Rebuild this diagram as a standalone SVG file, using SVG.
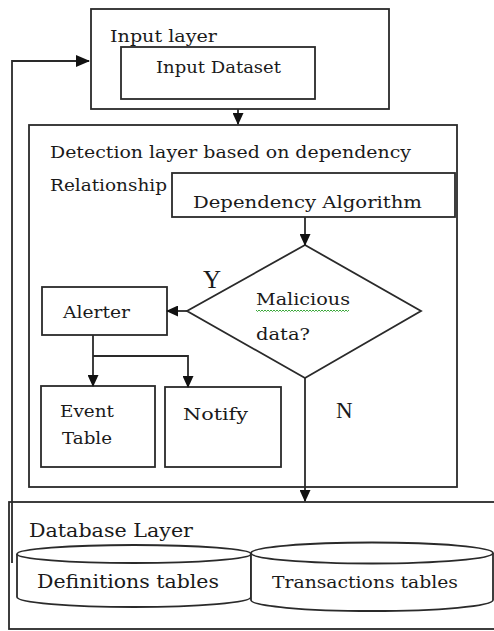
<svg xmlns="http://www.w3.org/2000/svg" width="494" height="631" viewBox="0 0 494 631">
<defs>
<style>
.box{fill:#fff;stroke:#2a2a2a;stroke-width:1.8}
.ln{fill:none;stroke:#2a2a2a;stroke-width:1.8}
.t{font-family:"DejaVu Serif","Liberation Serif",serif;font-size:17.5px;fill:#1a1a1a}
.big{font-family:"Liberation Serif","DejaVu Serif",serif;font-size:25px;fill:#1a1a1a}
</style>
<marker id="ah" markerUnits="userSpaceOnUse" markerWidth="14" markerHeight="12" refX="13" refY="6" orient="auto">
<path d="M0,0 L14,6 L0,12 z" fill="#111"/>
</marker>
<marker id="ahs" markerUnits="userSpaceOnUse" markerWidth="12" markerHeight="11" refX="11" refY="5.5" orient="auto">
<path d="M0,0 L12,5.5 L0,11 z" fill="#111"/>
</marker>
</defs>
<rect width="494" height="631" fill="#fff"/>

<g id="input-layer">
<rect class="box" x="91" y="9" width="298" height="100"/>
<text class="t" x="110" y="42" textLength="107" lengthAdjust="spacingAndGlyphs">Input layer</text>
</g>
<g id="input-dataset">
<rect class="box" x="121" y="47" width="194" height="52"/>
<text class="t" x="156" y="73" textLength="125" lengthAdjust="spacingAndGlyphs">Input Dataset</text>
</g>

<g id="detection-layer">
<rect class="box" x="29" y="125" width="428" height="362"/>
<text class="t" x="50" y="158" textLength="361" lengthAdjust="spacingAndGlyphs">Detection layer based on dependency</text>
<text class="t" x="50" y="191" textLength="117" lengthAdjust="spacingAndGlyphs">Relationship</text>
</g>
<g id="dependency-algorithm">
<rect class="box" x="172" y="173" width="283" height="44"/>
<text class="t" x="193" y="208" textLength="229" lengthAdjust="spacingAndGlyphs">Dependency Algorithm</text>
</g>
<g id="malicious-decision">
<polygon class="box" points="305,245 421,311 305,378 187,311"/>
<text class="t" x="256" y="305" textLength="94" lengthAdjust="spacingAndGlyphs">Malicious</text>
<path d="M256 310 l1.5 1.5 1.5 -1.5 1.5 1.5 1.5 -1.5 1.5 1.5 1.5 -1.5 1.5 1.5 1.5 -1.5 1.5 1.5 1.5 -1.5 1.5 1.5 1.5 -1.5 1.5 1.5 1.5 -1.5 1.5 1.5 1.5 -1.5 1.5 1.5 1.5 -1.5 1.5 1.5 1.5 -1.5 1.5 1.5 1.5 -1.5 1.5 1.5 1.5 -1.5 1.5 1.5 1.5 -1.5 1.5 1.5 1.5 -1.5 1.5 1.5 1.5 -1.5 1.5 1.5 1.5 -1.5 1.5 1.5 1.5 -1.5 1.5 1.5 1.5 -1.5 1.5 1.5 1.5 -1.5 1.5 1.5 1.5 -1.5 1.5 1.5 1.5 -1.5 1.5 1.5 1.5 -1.5 1.5 1.5 1.5 -1.5 1.5 1.5 1.5 -1.5 1.5 1.5 1.5 -1.5 1.5 1.5 1.5 -1.5 1.5 1.5 1.5 -1.5 1.5 1.5 1.5 -1.5 1.5 1.5 1.5 -1.5 1.5 1.5 1.5 -1.5 1.5 1.5 1.5 -1.5" fill="none" stroke="#3aa83a" stroke-width="1"/>
<text class="t" x="256" y="340" textLength="54" lengthAdjust="spacingAndGlyphs">data?</text>
</g>
<g id="alerter">
<rect class="box" x="42" y="287" width="125" height="48"/>
<text class="t" x="63" y="318" textLength="67" lengthAdjust="spacingAndGlyphs">Alerter</text>
</g>
<g id="event-table">
<rect class="box" x="41" y="386" width="114" height="81"/>
<text class="t" x="60" y="417" textLength="54" lengthAdjust="spacingAndGlyphs">Event</text>
<text class="t" x="62" y="444" textLength="50" lengthAdjust="spacingAndGlyphs">Table</text>
</g>
<g id="notify">
<rect class="box" x="165" y="387" width="116" height="80"/>
<text class="t" x="183" y="420" textLength="65" lengthAdjust="spacingAndGlyphs">Notify</text>
</g>

<g id="database-layer">
<rect class="box" x="9" y="502" width="492" height="127"/>
<text class="t" x="29" y="537" textLength="164" lengthAdjust="spacingAndGlyphs" style="font-size:18.5px">Database Layer</text>
</g>
<g id="definitions-tables">
<path class="box" d="M17 554 L17 597 A117 10 0 0 0 251 597 L251 554"/>
<ellipse class="box" cx="134" cy="554" rx="117" ry="9"/>
<text class="t" x="37" y="588" textLength="182" lengthAdjust="spacingAndGlyphs" style="font-size:18.5px">Definitions tables</text>
</g>
<g id="transactions-tables">
<path class="box" d="M251 553 L251 600 A121 11 0 0 0 493 600 L493 553"/>
<ellipse class="box" cx="372" cy="553" rx="121" ry="10.5"/>
<text class="t" x="272" y="588" textLength="186" lengthAdjust="spacingAndGlyphs">Transactions tables</text>
</g>

<g id="labels">
<text class="big" x="203" y="288">Y</text>
<text class="big" x="336" y="418" style="font-size:23px">N</text>
</g>

<g id="connectors">
<polyline class="ln" points="12,563 12,61 89,61" marker-end="url(#ah)"/>
<line class="ln" x1="238" y1="109" x2="238" y2="124" marker-end="url(#ahs)"/>
<line class="ln" x1="305" y1="217" x2="305" y2="245" marker-end="url(#ahs)"/>
<line class="ln" x1="187" y1="311" x2="167" y2="311" marker-end="url(#ahs)"/>
<line class="ln" x1="93" y1="335" x2="93" y2="386" marker-end="url(#ahs)"/>
<polyline class="ln" points="93,356 188,356 188,387" marker-end="url(#ahs)"/>
<line class="ln" x1="305" y1="378" x2="305" y2="501" marker-end="url(#ahs)"/>
</g>
</svg>
